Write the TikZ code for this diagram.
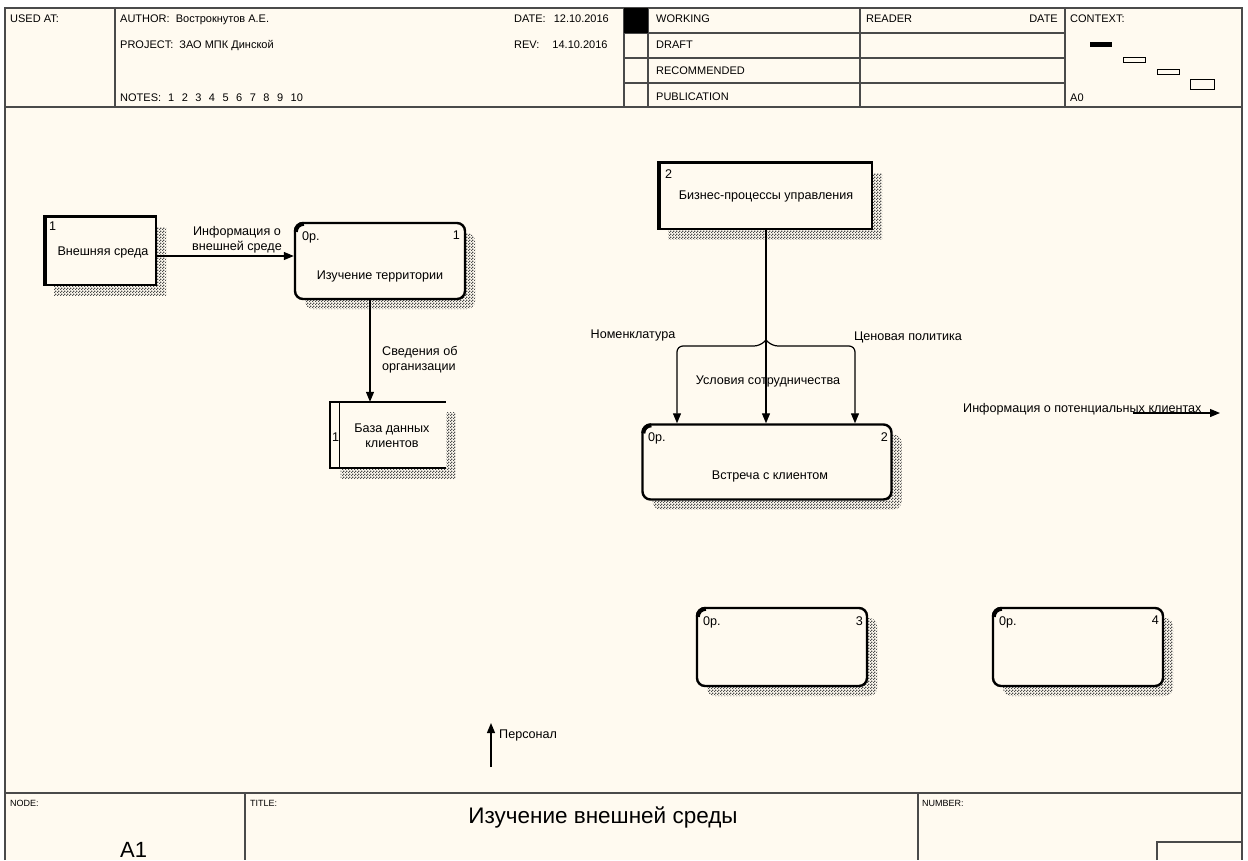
\documentclass[tikz,border=0pt]{standalone}
\usepackage{fontspec}
\setmainfont{Liberation Sans}
\usetikzlibrary{arrows.meta,patterns.meta,shadows,calc}
\definecolor{paper}{HTML}{FFFAF0}
\definecolor{framec}{HTML}{4A4A4A}
\tikzdeclarepattern{
  name=checker,
  type=uncolored,
  bottom left={(0pt,0pt)},
  top right={(3pt,3pt)},
  tile size={(3pt,3pt)},
  code={\fill (0pt,0pt) rectangle (1.5pt,1.5pt); \fill (1.5pt,1.5pt) rectangle (3pt,3pt);}
}
\begin{document}
\begin{tikzpicture}[x=1pt,y=-1pt,
  hdr/.style={font=\fontsize{11}{12}\selectfont, inner sep=0pt, anchor=base west},
  small/.style={font=\fontsize{9}{10}\selectfont, inner sep=0pt, anchor=base west},
  txt/.style={font=\fontsize{12.6}{15}\selectfont, inner sep=0pt},
  shad/.style={drop shadow={shadow xshift=10pt, shadow yshift=-10pt, opacity=1, pattern=checker, pattern color=black!70}},
  procbox/.style={draw, line width=2.4pt, rounded corners=8pt, fill=paper, shad, inner sep=0pt},
  entbox/.style={draw, line width=1.6pt, fill=paper, shad, inner sep=0pt},
  storebox/.style={draw=none, fill=paper, shad, inner sep=0pt},
  arr/.style={line width=1.2pt, -{Triangle[length=10pt,width=8pt]}},
  fr/.style={draw=framec, line width=1.2pt},
  corner/.style={line width=4pt}
]
\useasboundingbox (0,0) rectangle (1248,860);
\fill[white] (0,0) rectangle (1248,860);
\fill[paper] (5,8) rectangle (1242,860);

% ---------- frame ----------
\draw[fr] (5,860) -- (5,8) -- (1242,8) -- (1242,860);
\draw[fr] (5,107) -- (1242,107);
\foreach \x in {115,624,648,860,1065} \draw[fr] (\x,8) -- (\x,107);
\foreach \y in {33,58,83} \draw[fr] (624,\y) -- (1065,\y);
\fill[black] (624,8) rectangle (648,33);
\draw[fr] (5,793) -- (1242,793);
\draw[fr] (245,793) -- (245,860);
\draw[fr] (918,793) -- (918,860);
\draw[fr] (1157,860) -- (1157,842) -- (1242,842);

% context mini boxes
\fill[black] (1090,42) rectangle (1112,47);
\draw[line width=0.9pt, fill=paper] (1123,57) rectangle (1145,62);
\draw[line width=0.9pt, fill=paper] (1157,69) rectangle (1179,74);
\draw[line width=0.9pt, fill=paper] (1190,79) rectangle (1214,89);

% header texts
\node[hdr] (usedat) at (10,22) {USED AT:};
\node[hdr] (author) at (120,22) {AUTHOR:\ \ Вострокнутов А.Е.};
\node[hdr] (project) at (120,48) {PROJECT:\ \ ЗАО МПК Динской};
\node[hdr] (notes) at (120,101) {NOTES:\hspace{7pt}1\hspace{7.5pt}2\hspace{7.5pt}3\hspace{7.5pt}4\hspace{7.5pt}5\hspace{7.5pt}6\hspace{7.5pt}7\hspace{7.5pt}8\hspace{7.5pt}9\hspace{7.5pt}10};
\node[hdr] (date) at (514,22) {DATE:\hspace{8pt}12.10.2016};
\node[hdr] (rev) at (514,48) {REV:\hspace{13pt}14.10.2016};
\node[hdr] (working) at (656,22) {WORKING};
\node[hdr] (draft) at (656,48) {DRAFT};
\node[hdr] (recom) at (656,74) {RECOMMENDED};
\node[hdr] (publ) at (656,100) {PUBLICATION};
\node[hdr] (reader) at (866,22) {READER};
\node[hdr, anchor=base east] (rdate) at (1058,22) {DATE};
\node[hdr] (context) at (1070,22) {CONTEXT:};
\node[hdr] (a0) at (1070,101) {A0};

% footer texts
\node[small] (nodelbl) at (10,806) {NODE:};
\node[small] (titlelbl) at (250,806) {TITLE:};
\node[small] (numlbl) at (922,806) {NUMBER:};
\node[font=\fontsize{22}{24}\selectfont, inner sep=0pt, anchor=base west] (a1) at (120,857) {A1};
\node[font=\fontsize{22.5}{24}\selectfont, inner sep=0pt, anchor=base] (title) at (603,823) {Изучение внешней среды};

% ---------- diagram ----------
% external entity 1
\node[entbox, minimum width=112pt, minimum height=68pt] (e1) at (100,251) {};
\draw[line width=4pt] ([xshift=2pt]e1.south west) -- ([xshift=2pt]e1.north west);
\draw[line width=2.6pt] (e1.north west) -- (e1.north east);
\node[txt, anchor=north west] (e1n) at (49,222) {1};
\node[txt] (e1t) at (103,252) {Внешняя среда};

% process 1
\node[procbox, minimum width=170pt, minimum height=76pt] (p1) at (380,261) {};
\draw[corner] ($(p1.north west)+(2,10)$) arc[start angle=180, end angle=270, radius=8];
\node[txt, anchor=north west] (p1o) at (302,231) {0р.};
\node[txt, anchor=north east] (p1n) at (460,231) {1};
\node[txt] (p1t) at (380,276) {Изучение территории};

% data store
\node[storebox, minimum width=115pt, minimum height=66pt] (ds) at (388,435) {};
\draw[line width=1.8pt] (ds.north east) -- (ds.north west) -- (ds.south west) -- (ds.south east);
\draw[line width=1.6pt] ([xshift=9pt]ds.north west) -- ([xshift=9pt]ds.south west);
\node[txt, anchor=west] (dsn) at (332,437) {1};
\node[txt, align=center] (dst) at (392,436) {База данных\\клиентов};

% external entity 2
\node[entbox, minimum width=214pt, minimum height=66pt] (e2) at (765,196) {};
\draw[line width=4.5pt] ([xshift=2pt]e2.south west) -- ([xshift=2pt]e2.north west);
\draw[line width=3pt] (e2.north west) -- (e2.north east);
\node[txt, anchor=north west] (e2n) at (665,169) {2};
\node[txt] (e2t) at (766,196) {Бизнес-процессы управления};

% process 2
\node[procbox, minimum width=249pt, minimum height=75pt] (p2) at (767,462) {};
\draw[corner] ($(p2.north west)+(2,10)$) arc[start angle=180, end angle=270, radius=8];
\node[txt, anchor=north west] (p2o) at (648,432) {0р.};
\node[txt, anchor=north east] (p2n) at (888,432) {2};
\node[txt] (p2t) at (770,476) {Встреча с клиентом};

% process 3
\node[procbox, minimum width=170pt, minimum height=78pt] (p3) at (782,647) {};
\draw[corner] ($(p3.north west)+(2,10)$) arc[start angle=180, end angle=270, radius=8];
\node[txt, anchor=north west] (p3o) at (703,616) {0р.};
\node[txt, anchor=north east] (p3n) at (863,616) {3};

% process 4
\node[procbox, minimum width=170pt, minimum height=78pt] (p4) at (1078,647) {};
\draw[corner] ($(p4.north west)+(2,10)$) arc[start angle=180, end angle=270, radius=8];
\node[txt, anchor=north west] (p4o) at (999,616) {0р.};
\node[txt, anchor=north east] (p4n) at (1159,616) {4};

% ---------- connectors ----------
\draw[arr] (e1.east |- 0,256) -- (p1.west |- 0,256);
\node[txt, align=center] (l1) at (237,240) {Информация о\\внешней среде};

\draw[arr] (p1.south -| 370,0) -- (ds.north -| 370,0);
\node[txt, align=left, anchor=west] (l2) at (382,360) {Сведения об\\организации};

\draw[arr] (e2.south -| 766,0) -- (p2.north -| 766,0);
\coordinate (split) at (766,340);
\draw[arr, rounded corners=6pt] (split) -- (760,346) -- (677,346) -- (p2.north -| 677,0);
\draw[arr, rounded corners=6pt] (split) -- (772,346) -- (855,346) -- (p2.north -| 855,0);
\node[txt] (l3) at (633,335) {Номенклатура};
\node[txt] (l4) at (908,337) {Ценовая политика};
\node[txt] (l5) at (768,381) {Условия сотрудничества};

\coordinate (outS) at (1133,413);
\coordinate (outE) at (1220,413);
\draw[arr] (outS) -- (outE);
\node[txt, anchor=base west] (l6) at (963,412) {Информация о потенциальных клиентах};

\coordinate (persS) at (491,767);
\coordinate (persE) at (491,723);
\draw[arr] (persS) -- (persE);
\node[txt, anchor=west] (l7) at (499,735) {Персонал};
\end{tikzpicture}
\end{document}
